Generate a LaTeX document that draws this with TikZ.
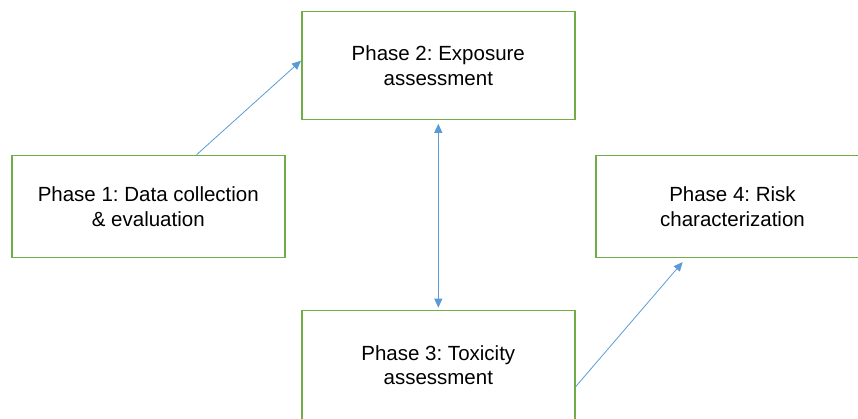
\documentclass[tikz,border=0pt]{standalone}
\usepackage{fontspec}
\setmainfont{Liberation Sans}
\usetikzlibrary{arrows.meta, positioning}
\definecolor{phaseGreen}{RGB}{112, 173, 71}
\definecolor{linkBlue}{RGB}{91, 155, 213}
\tikzset{
    phase/.style={draw=phaseGreen, line width=1.6pt, fill=white, align=center,
        minimum width=273pt, font=\fontsize{20.5}{24.5}\selectfont\frenchspacing},
    link/.style={draw=linkBlue, line width=0.8pt, -{Triangle[length=9pt, width=8pt]}}
}

\begin{document}
\begin{tikzpicture}[x=1pt, y=1pt]
    \useasboundingbox (0,0) rectangle (858,419);

    % The four phases
    \node[phase, minimum height=102pt] (p1) at (148.3,212.5) {Phase 1: Data collection\\ \& evaluation};
    \node[phase, minimum height=108pt] (p2) at (438.3,353.5) {Phase 2: Exposure\\ assessment};
    \node[phase, minimum height=109pt] (p3) at (438.3,54) {Phase 3: Toxicity\\ assessment};
    \node[phase, minimum height=102pt] (p4) at (732.5,212.5) {Phase 4: Risk\\ characterization};

    % Arrows between the phases
    \draw[link] (p1.47) -- (p2.178.4);
    \draw[link, {Triangle[length=9pt, width=8pt]}-{Triangle[length=9pt, width=8pt]},
        shorten <=3.5pt, shorten >=2pt] (p2.south) -- (p3.north);
    \draw[link, shorten >=5pt] (p3.-9.5) -- (p4.228);
\end{tikzpicture}
\end{document}
